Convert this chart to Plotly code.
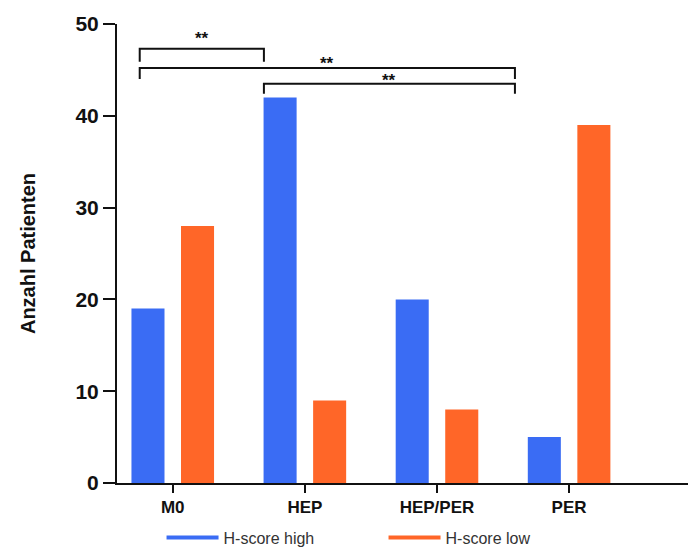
import plotly.graph_objects as go

categories = ["M0", "HEP", "HEP/PER", "PER"]
high_values = [19, 42, 20, 5]
low_values = [28, 9, 8, 39]
series_names = ["H-score high", "H-score low"]
colors = ["#3a6cf4", "#ff6628"]

# significance brackets: (x_left, x_right, y_top, y_drop, label_y)
brackets = [
    (-0.25, 0.69, 47.3, 1.4, 48.4),
    (-0.25, 2.59, 45.2, 1.2, 45.7),
    (0.69, 2.59, 43.5, 1.1, 43.9),
]

xpos = list(range(len(categories)))

fig = go.Figure()
fig.add_trace(go.Bar(x=xpos, y=high_values, name=series_names[0],
                     marker=dict(color=colors[0], line=dict(width=0)), showlegend=False))
fig.add_trace(go.Bar(x=xpos, y=low_values, name=series_names[1],
                     marker=dict(color=colors[1], line=dict(width=0)), showlegend=False))
# legend entries drawn as lines
for name, c in zip(series_names, colors):
    fig.add_trace(go.Scatter(x=[None], y=[None], mode="lines", name=name,
                             line=dict(color=c, width=4)))

shapes = []
annotations = []
for xl, xr, yt, drop, ly in brackets:
    shapes.append(dict(type="path", xref="x", yref="y",
                       path=f"M {xl},{yt-drop} L {xl},{yt} L {xr},{yt} L {xr},{yt-drop}",
                       line=dict(color="#111", width=2)))
    annotations.append(dict(x=(xl + xr) / 2, y=ly, xref="x", yref="y", text="<b>**</b>",
                            showarrow=False, font=dict(size=17, color="#111",
                                                       family="Liberation Sans, Arial")))

fig.update_layout(
    width=688, height=553,
    margin=dict(l=117, r=0, t=24, b=70, autoexpand=False),
    paper_bgcolor="white", plot_bgcolor="white",
    barmode="group", bargap=0.25, bargroupgap=0.333,
    font=dict(family="Liberation Sans, Arial", color="#111"),
    shapes=shapes, annotations=annotations,
    legend=dict(orientation="h", x=0.078, y=-0.082, xanchor="left", yanchor="top",
                entrywidth=155, entrywidthmode="pixels", itemwidth=52,
                font=dict(size=16, color="#333", family="Liberation Sans, Arial")),
    xaxis=dict(range=[-0.422, 3.9], tickvals=xpos, ticktext=categories,
               showgrid=False, zeroline=False, showline=True, linecolor="#111", linewidth=2,
               ticks="outside", ticklen=8, tickwidth=2, tickcolor="#111",
               tickfont=dict(size=17, family="Liberation Sans, Arial", weight="bold")),
    yaxis=dict(range=[0, 50], tickvals=[0, 10, 20, 30, 40, 50],
               showgrid=False, zeroline=False, showline=True, linecolor="#111", linewidth=2,
               ticks="outside", ticklen=12, tickwidth=2, tickcolor="#111",
               tickfont=dict(size=21, weight="bold"),
               title=dict(text="Anzahl Patienten", font=dict(size=20, weight="bold"), standoff=34)),
)

fig.write_html("out.html")
